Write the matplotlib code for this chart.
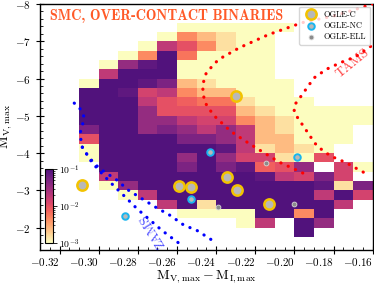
import numpy as np
import matplotlib
matplotlib.use("Agg")
import matplotlib.pyplot as plt
from matplotlib.colors import LogNorm, ListedColormap
from matplotlib.ticker import MultipleLocator

plt.rcParams['font.family'] = 'serif'
plt.rcParams['font.serif'] = ['cmr10']
plt.rcParams['mathtext.fontset'] = 'cm'
plt.rcParams['axes.formatter.use_mathtext'] = True
plt.rcParams['axes.unicode_minus'] = True

# ---------------- data ----------------
x_edges = np.round(np.arange(-0.31, -0.155, 0.01), 3)   # 15 columns + right edge
y_edges = np.arange(-7.5, -1.74, 0.25)                   # 23 rows + bottom edge

levels = {'.': np.nan, 'Y': 1.0e-3, 'L': 1.5e-3, 'O': 2.4e-3, 'A': 4.5e-3,
          'a': 6.0e-3, 'r': 8.0e-3, 'R': 1.0e-2, 'p': 1.4e-2, 'P': 1.9e-2,
          'M': 3.5e-2, 'm': 5.0e-2, 'd': 8.0e-2, 'D': 1.0e-1}

grid_rows = [
    ".....YYYYYY....",   # -7.50
    "....YAOLYY.....",   # -7.25
    "...YPRALYY.....",   # -7.00
    "..YADaYYYY.....",   # -6.75
    ".YMdDYYYYY.....",   # -6.50
    ".PDDDYYYYY.....",   # -6.25
    "YDDdmOLYYYY....",   # -6.00
    "DDdpPAOOYYY....",   # -5.75
    "DDDPRraaLYYY...",   # -5.50
    "DDDMRRRROLYYYYY",   # -5.25
    "DDDMMPppAOLYYYY",   # -5.00
    "mDDMmMPMPOLYYY.",   # -4.75
    "RDDDDmmMPOOYYY.",   # -4.50
    "YDDDDDDdPLOLY..",   # -4.25
    "YDDDDMDMppLYR..",   # -4.00
    ".DDDDmDmdrRM.pY",   # -3.75
    ".PDDDDDDDdPpmp.",   # -3.50
    ".YMDDDDDDDDDdLm",   # -3.25
    "..YPDDDDDDDDPDp",   # -3.00
    "....PDLDDDDDDP.",   # -2.75
    ".....YYYYDDAD..",   # -2.50
    "........YP.DM..",   # -2.25
    "...........D...",   # -2.00
]

# TAMS tracks
tams1_x = [-0.160, -0.179, -0.196, -0.2132, -0.228, -0.2388, -0.245, -0.247,
           -0.246, -0.2414, -0.2327, -0.225, -0.2184, -0.2077, -0.2000, -0.1923]
tams1_y = [-8.00, -7.69, -7.50, -7.18, -6.83, -6.51, -6.16, -5.81,
           -5.38, -5.02, -4.59, -4.32, -4.10, -3.755, -3.57, -3.38]
tams2_x = [-0.1611, -0.1689, -0.1763, -0.1836, -0.1899, -0.1928, -0.1975, -0.2001,
           -0.2001, -0.1979, -0.1955, -0.1909, -0.1883, -0.1815, -0.1739, -0.1670, -0.1631]
tams2_y = [-6.86, -6.58, -6.43, -6.25, -6.02, -5.81, -5.46, -5.28,
           -5.10, -4.91, -4.73, -4.37, -4.18, -3.92, -3.75, -3.55, -3.44]

# ZAMS tracks
zams1_x = [-0.3125, -0.3094, -0.3077, -0.3082, -0.3094, -0.3091, -0.3084, -0.3052,
           -0.3017, -0.2983, -0.2949, -0.2915, -0.2847, -0.2779, -0.2710, -0.2634,
           -0.2566, -0.2497, -0.2420]
zams1_y = [-5.34, -5.18, -4.995, -4.78, -4.56, -4.35, -4.16, -3.90,
           -3.69, -3.54, -3.42, -3.31, -3.00, -2.775, -2.55, -2.325,
           -2.07, -1.92, -1.66]
zams2_x = [-0.3084, -0.3035, -0.2975, -0.2919, -0.2864, -0.2804, -0.2745, -0.2676,
           -0.2608, -0.2574]
zams2_y = [-4.16, -3.75, -3.40, -3.10, -2.82, -2.505, -2.235, -1.92,
           -1.65, -1.52]

# OGLE stars
ogle_c_x = [-0.2298, -0.3085, -0.2591, -0.2531, -0.2342, -0.2293, -0.2131]
ogle_c_y = [-5.543, -3.142, -3.115, -3.08, -3.35, -3.007, -2.63]
ogle_nc_x = [-0.2433, -0.1989, -0.2531, -0.2864]
ogle_nc_y = [-4.04, -3.89, -2.78, -2.30]
ogle_ell_x = [-0.2144, -0.2392, -0.2003]
ogle_ell_y = [-3.727, -2.54, -2.62]

x_ticks = [-0.32, -0.30, -0.28, -0.26, -0.24, -0.22, -0.20, -0.18, -0.16]
y_ticks = [-8, -7, -6, -5, -4, -3, -2]

# ---------------- figure ----------------
Z = np.array([[levels[ch] for ch in row] for row in grid_rows])
Z = np.ma.masked_invalid(Z)

base = plt.get_cmap('magma')
cmap = ListedColormap(base(np.linspace(0.25, 1.0, 256))[::-1])
norm = LogNorm(vmin=1e-3, vmax=1e-1)

fig = plt.figure(figsize=(3.74, 2.86), dpi=100)
ax = fig.add_axes([0.107, 0.126, 0.8895, 0.86])

ye = y_edges[:len(grid_rows) + 1]
xe = x_edges[:16]
mesh = ax.pcolormesh(xe, ye, Z, cmap=cmap, norm=norm, shading='flat', zorder=1)

dot = dict(linestyle=(0, (0.05, 2.45)), dash_capstyle='round', lw=2.3, zorder=3)
ax.plot(tams1_x, tams1_y, color='red', **dot)
ax.plot(tams2_x, tams2_y, color='red', **dot)
ax.plot(zams1_x, zams1_y, color='blue', **dot)
ax.plot(zams2_x, zams2_y, color='blue', **dot)

ax.text(-0.1703, -6.42, 'TAMS', color='red', alpha=0.75, rotation=39,
        ha='center', va='center', fontsize=9.5, zorder=4)
ax.text(-0.2722, -1.93, 'ZAMS', color='blue', alpha=0.7, rotation=122,
        ha='center', va='center', fontsize=9.5, zorder=4)

ax.scatter(ogle_c_x, ogle_c_y, s=55, c='#b8b8b8', edgecolors='#f3c300',
           linewidths=1.8, zorder=5, label='OGLE-C')
ax.scatter(ogle_nc_x, ogle_nc_y, s=22, c='#b8b8b8', edgecolors='#19b5ef',
           linewidths=1.4, zorder=5, label='OGLE-NC')
ax.scatter(ogle_ell_x, ogle_ell_y, s=12, c='#8c8c8c', edgecolors='#d9d9d9',
           linewidths=0.6, zorder=5, label='OGLE-ELL')

ax.set_xlim(-0.33, -0.16)
ax.set_ylim(-1.4, -8)
ax.set_xticks(x_ticks)
ax.set_yticks(y_ticks)
ax.xaxis.set_minor_locator(MultipleLocator(0.005))
ax.yaxis.set_minor_locator(MultipleLocator(0.2))
ax.tick_params(which='major', direction='inout', length=6, width=0.8, labelsize=8)
ax.tick_params(axis='x', which='major', pad=1.5)
ax.tick_params(which='minor', direction='in', length=2.5, width=0.6)
for lbl in ax.get_xticklabels():
    lbl.set_horizontalalignment('right')
for s in ax.spines.values():
    s.set_linewidth(1.0)

ax.set_xlabel(r'$\mathrm{M_{V,max} - M_{I,max}}$', fontsize=10, labelpad=0)
ax.set_ylabel(r'$\mathrm{M_{V,max}}$', fontsize=10, labelpad=1)

ax.text(0.03, 0.935, 'SMC, OVER-CONTACT BINARIES', transform=ax.transAxes,
        fontfamily='cmb10', fontsize=10.2, color='#ff5a28', ha='left',
        va='baseline', zorder=6)

leg = ax.legend(loc='upper right', fontsize=6, frameon=True, framealpha=0.8,
                borderpad=0.45, labelspacing=0.35, handletextpad=0.5,
                borderaxespad=0.3)
leg.set_zorder(7)

cax = ax.inset_axes([0.015, 0.028, 0.024, 0.30])
cb = fig.colorbar(mesh, cax=cax, orientation='vertical')
cb.outline.set_linewidth(0.8)
cax.yaxis.set_ticks_position('right')
cax.tick_params(which='major', length=3, width=0.6, labelsize=7, pad=1)
cax.tick_params(which='minor', length=1.5, width=0.5)

fig.savefig('out.png', dpi=100)
